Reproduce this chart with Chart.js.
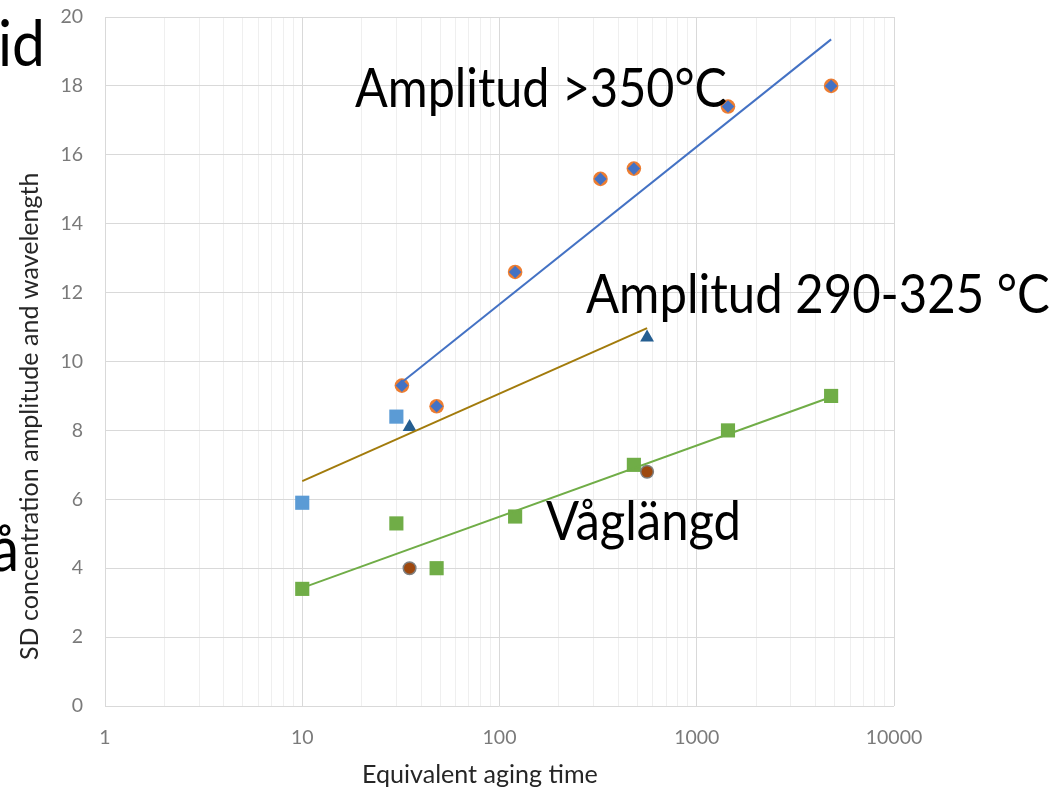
<!DOCTYPE html>
<html>
<head>
<meta charset="utf-8">
<script src="https://cdn.jsdelivr.net/npm/chart.js@4.4.1/dist/chart.umd.min.js"></script>
<style>
  html, body { margin: 0; padding: 0; background: #fff; }
  #wrap { width: 1056px; height: 789px; }
</style>
</head>
<body>
<div id="wrap"><canvas id="chart" width="1056" height="789"></canvas></div>
<script>
const FONT = 'Lato, "Open Sans", sans-serif';

// ── Data ───────────────────────────────────────────────────────
const xTickLabels = [1, 10, 100, 1000, 10000];

// Amplitud >350°C
const amp350Time  = [32, 48, 120, 325, 480, 1440, 4800];
const amp350Value = [9.3, 8.7, 12.6, 15.3, 15.6, 17.4, 18.0];
const amp350TrendTime  = [32, 4800];
const amp350TrendValue = [9.4, 19.35];

// Amplitud 290-325 °C
const amp290TriTime  = [35, 560];
const amp290TriValue = [8.1, 10.7];
const amp290SqTime   = [10, 30];
const amp290SqValue  = [5.9, 8.4];
const amp290TrendTime  = [10, 560];
const amp290TrendValue = [6.53, 10.97];

// Våglängd
const waveTime  = [10, 30, 48, 120, 480, 1440, 4800];
const waveValue = [3.4, 5.3, 4.0, 5.5, 7.0, 8.0, 9.0];
const waveDotTime  = [35, 560];
const waveDotValue = [4.0, 6.8];
const waveTrendTime  = [10, 4800];
const waveTrendValue = [3.43, 8.97];

const pts = (xs, ys) => xs.map((x, i) => ({ x, y: ys[i] }));

// ── Text overlay (annotations + axis titles) ───────────────────
function fitSize(ctx, text, width) {
  ctx.font = `100px ${FONT}`;
  return 100 * width / ctx.measureText(text).width;
}

function drawText(ctx, text, x, y, width, opts = {}) {
  const size = fitSize(ctx, text, width);
  ctx.save();
  ctx.font = `${size}px ${FONT}`;
  ctx.fillStyle = opts.color || '#000';
  ctx.textBaseline = 'alphabetic';
  ctx.textAlign = 'left';
  ctx.translate(x, y);
  if (opts.rotate) ctx.rotate(opts.rotate);
  if (opts.sy) ctx.scale(1, opts.sy);
  ctx.fillText(text, 0, 0);
  ctx.restore();
}

const overlay = {
  id: 'overlay',
  afterDraw(chart) {
    const ctx = chart.ctx;
    drawText(ctx, 'id', -2, 66, 47, { sy: 1.1 });
    drawText(ctx, 'å', -9, 571, 28, { sy: 1.1 });
    drawText(ctx, 'Amplitud >350°C', 355, 107, 372, { sy: 1.1 });
    drawText(ctx, 'Amplitud 290-325 °C', 586, 313, 464, { sy: 1.1 });
    drawText(ctx, 'Våglängd', 546, 540, 195, { sy: 1.1 });
    drawText(ctx, 'Equivalent aging time', 362, 783, 236, { color: '#262626' });
    drawText(ctx, 'SD concentration amplitude and wavelength', 38, 660, 488, { color: '#262626', rotate: -Math.PI / 2 });
  }
};

// ── Chart ──────────────────────────────────────────────────────
const markers = (label, data, style, bg, r, border, order) => ({
  label, data, type: 'scatter', showLine: false, order,
  pointStyle: style, pointRadius: r, pointHoverRadius: r,
  backgroundColor: bg, borderColor: border || bg, borderWidth: border ? 1.5 : 0,
});
const trend = (label, data, color) => ({
  label, data, type: 'scatter', showLine: true, order: 0,
  borderColor: color, borderWidth: 2, pointRadius: 0, fill: false,
});

new Chart(document.getElementById('chart'), {
  type: 'scatter',
  data: {
    datasets: [
      trend('Trend >350', pts(amp350TrendTime, amp350TrendValue), '#4472C4'),
      trend('Trend 290-325', pts(amp290TrendTime, amp290TrendValue), '#A27B0C'),
      trend('Trend Våglängd', pts(waveTrendTime, waveTrendValue), '#70AD47'),
      markers('>350 diamond', pts(amp350Time, amp350Value), 'rectRot', '#4472C4', 6.3, null, 1),
      markers('>350 circle', pts(amp350Time, amp350Value), 'circle', '#ED7D31', 7.3, null, 2),
      markers('290-325 tri', pts(amp290TriTime, amp290TriValue), 'triangle', '#255E91', 8, null, 2),
      markers('290-325 sq', pts(amp290SqTime, amp290SqValue), 'rect', '#5B9BD5', 10, null, 2),
      markers('Våglängd sq', pts(waveTime, waveValue), 'rect', '#70AD47', 10, null, 2),
      markers('Våglängd dot', pts(waveDotTime, waveDotValue), 'circle', '#9E480E', 6.3, '#7F7F7F', 1),
    ]
  },
  options: {
    responsive: false,
    animation: false,
    events: [],
    layout: { padding: { top: 17, right: 162, left: 0, bottom: 0 } },
    plugins: { legend: { display: false }, tooltip: { enabled: false } },
    scales: {
      x: {
        type: 'logarithmic', min: 1, max: 10000,
        afterFit: s => { s.height = 83; s.paddingLeft = 0; s.paddingRight = 0; },
        afterBuildTicks: s => {
          const t = [];
          for (let k = 0; k < 4; k++) for (let m = 1; m <= 9; m++) t.push({ value: m * 10 ** k });
          t.push({ value: 10000 });
          s.ticks = t;
        },
        ticks: {
          autoSkip: false, maxRotation: 0, padding: 20, color: '#7A7A7A',
          font: { family: FONT, size: 19.5 },
          callback: v => xTickLabels.includes(v) ? String(v) : '',
        },
        grid: {
          drawTicks: false,
          color: c => xTickLabels.includes(c.tick && c.tick.value) ? '#D9D9D9' : '#EFEFEF',
        },
        border: { display: false },
      },
      y: {
        min: 0, max: 20,
        afterFit: s => { s.width = 105; s.paddingTop = 0; s.paddingBottom = 0; },
        ticks: { stepSize: 2, padding: 22, color: '#7A7A7A', font: { family: FONT, size: 19.5 } },
        grid: { drawTicks: false, color: '#D9D9D9' },
        border: { display: false },
      }
    }
  },
  plugins: [overlay]
});
</script>
</body>
</html>
